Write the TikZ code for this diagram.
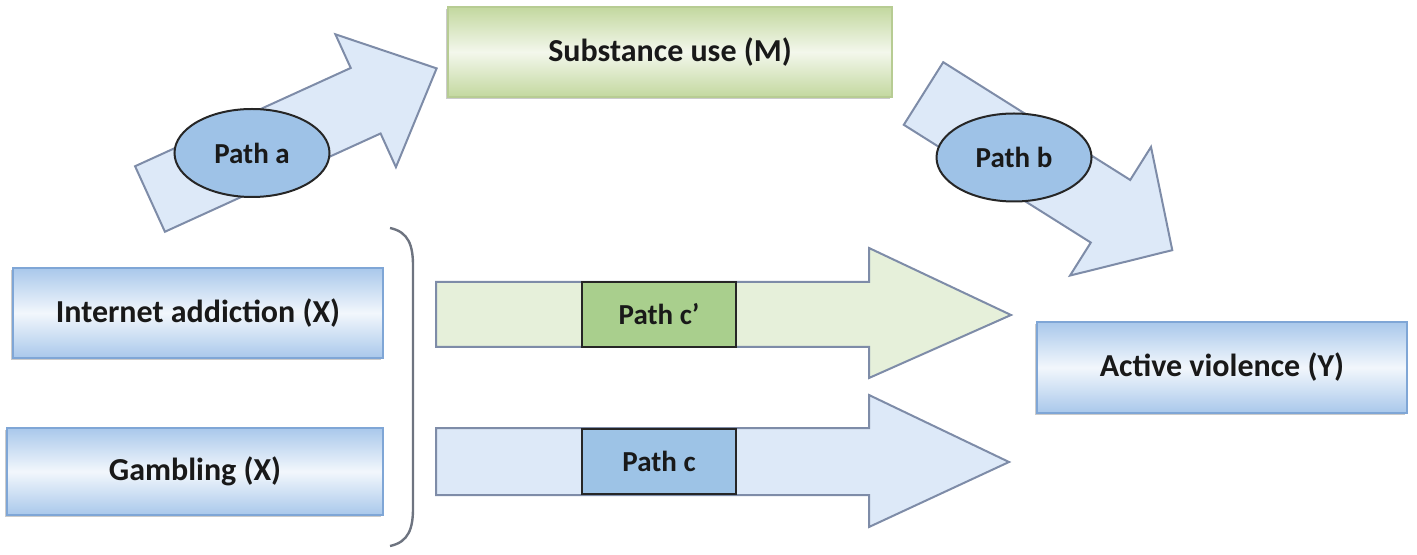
\documentclass[tikz,border=0pt]{standalone}
\usepackage{fontspec}
\setmainfont{Carlito}
\usepackage{tikz}
\usetikzlibrary{positioning, shapes.geometric, shadows}

\definecolor{boxblue}{HTML}{A9C8EB}
\definecolor{boxblueedge}{HTML}{7FA6D6}
\definecolor{boxgreen}{HTML}{C3D89F}
\definecolor{boxgreenedge}{HTML}{B7CC93}
\definecolor{arrowblue}{HTML}{DDE9F8}
\definecolor{arrowgreen}{HTML}{E6F0DA}
\definecolor{arrowedge}{HTML}{7E8CA8}
\definecolor{ovalblue}{HTML}{9EC2E7}
\definecolor{tagblue}{HTML}{9DC3E6}
\definecolor{taggreen}{HTML}{A9CF8D}
\definecolor{bracegray}{HTML}{6E7480}

\begin{document}
\begin{tikzpicture}[
    x=0.5pt, y=-0.5pt,
    varbox/.style={rectangle, draw=boxblueedge, line width=1pt, inner sep=0pt,
        top color=boxblue, bottom color=boxblue, middle color=white!85!boxblue,
        font=\fontsize{16}{19}\selectfont\bfseries, text=black!90,
        drop shadow={shadow xshift=-0.8pt, shadow yshift=-1.2pt, fill=black!45, opacity=.45}},
    medbox/.style={varbox, draw=boxgreenedge, top color=boxgreen, bottom color=boxgreen,
        middle color=white!80!boxgreen},
    pathoval/.style={ellipse, draw=black!85, line width=1pt, fill=ovalblue, inner sep=0pt,
        minimum width=77.5pt, minimum height=44pt,
        font=\fontsize{14.5}{17}\selectfont\bfseries, text=black!90},
    pathtag/.style={rectangle, draw=black!85, line width=1.2pt, inner sep=0pt,
        minimum width=77pt, minimum height=32.5pt,
        font=\fontsize{14.5}{17}\selectfont\bfseries, text=black!90},
    blockarrow/.style={draw=arrowedge, line width=1pt, line join=miter}
]
    \useasboundingbox (0,0) rectangle (1417,555);
    % Boxes for X, M and Y
    \node[medbox, minimum width=222pt, minimum height=45pt] (subst) at (670,52) {Substance use (M)};
    \node[varbox, minimum width=185pt, minimum height=45pt] (internet) at (198,313) {Internet addiction (X)};
    \node[varbox, minimum width=188pt, minimum height=43.5pt] (gambling) at (195,471.5) {Gambling (X)};
    \node[varbox, minimum width=185pt, minimum height=45.5pt] (violence) at (1222,367.5) {Active violence (Y)};
    % Bracket round the two X boxes
    \draw[bracegray, line width=1.2pt] (390,228) .. controls (409,232) and (413,246) .. (413,266)
        -- (413,508) .. controls (413,528) and (409,542) .. (390,546);
    % Path a: X -> M
    \begin{scope}[shift={(150,199)}, rotate=24.5]
        \draw[blockarrow, fill=arrowblue] (0,-36) -- (237,-36) -- (237,-73) -- (315,0)
            -- (237,73) -- (237,36) -- (0,36) -- cycle;
    \end{scope}
    \node[pathoval] (patha) at (252,153) {Path a};
    % Path b: M -> Y
    \begin{scope}[shift={(923.5,93.5)}, rotate=-32.2]
        \draw[blockarrow, fill=arrowblue] (0,-37) -- (221,-37) -- (221,-76) -- (294,0)
            -- (221,76) -- (221,37) -- (0,37) -- cycle;
    \end{scope}
    \node[pathoval] (pathb) at (1014,157.5) {Path b};
    % Direct paths X -> Y
    \draw[blockarrow, fill=arrowgreen] (436,282) -- (869,282) -- (869,248) -- (1011,315)
        -- (869,378) -- (869,347) -- (436,347) -- cycle;
    \node[pathtag, fill=taggreen] (pathcp) at (659,314.5) {Path c’};
    \draw[blockarrow, fill=arrowblue] (436,428) -- (869,428) -- (869,395) -- (1009,462)
        -- (869,527) -- (869,495) -- (436,495) -- cycle;
    \node[pathtag, fill=tagblue] (pathc) at (659,461.5) {Path c};
\end{tikzpicture}
\end{document}
